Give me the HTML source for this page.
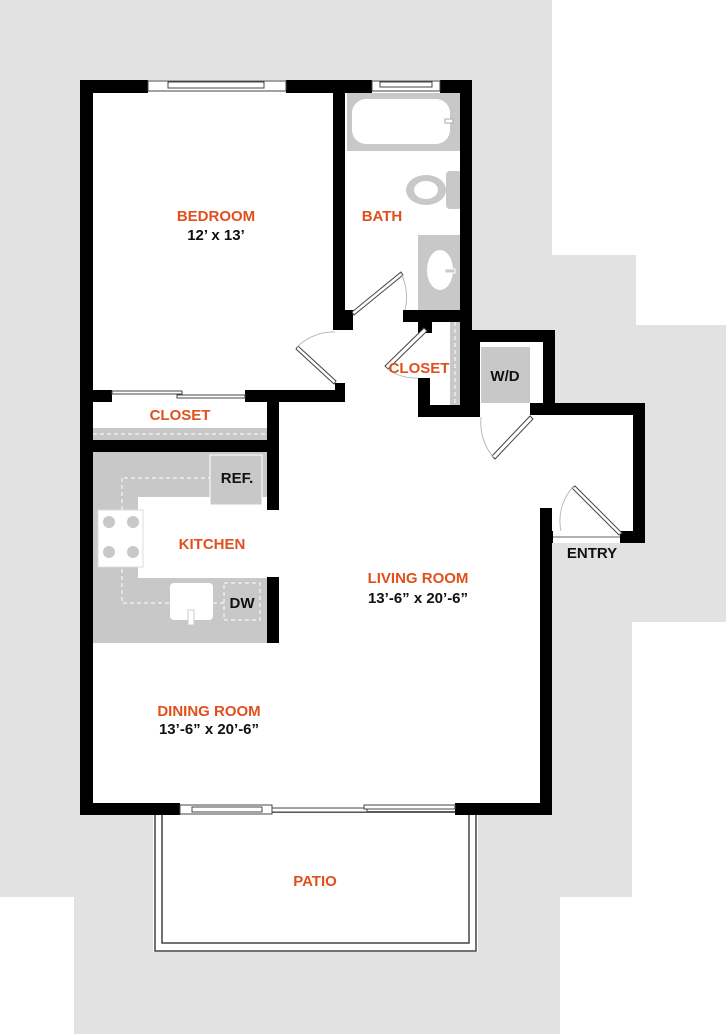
<!DOCTYPE html>
<html><head><style>
html,body{margin:0;padding:0;background:#fff;}
svg{display:block;}
text{font-family:"Liberation Sans",sans-serif;font-size:15px;font-weight:bold;text-anchor:middle;}
.o{fill:#e0501c;}
.k{fill:#111;}
</style></head><body>
<svg width="726" height="1034" viewBox="0 0 726 1034" xmlns="http://www.w3.org/2000/svg">
<path d="M0 0H552V255H636V325H726V622H632V897H560V1034H74V897H0Z" fill="#e2e2e2"/>
<path d="M80 80H472V330H555V403H645V543H552V815H80Z" fill="#fff"/>
<rect x="153" y="815" width="325" height="137" fill="#fff"/>
<rect x="155" y="812" width="321" height="139" fill="none" stroke="#444" stroke-width="1.5"/>
<rect x="162" y="812" width="307" height="131" fill="none" stroke="#444" stroke-width="1.5"/>
<path d="M93 452H267V643H93Z" fill="#c8c8c8"/>
<rect x="138" y="497" width="129" height="81" fill="#fff"/>
<rect x="98" y="510" width="45" height="57" fill="#fff" stroke="#ddd"/>
<circle cx="109" cy="522" r="6" fill="#c8c8c8"/><circle cx="133" cy="522" r="6" fill="#c8c8c8"/>
<circle cx="109" cy="552" r="6" fill="#c8c8c8"/><circle cx="133" cy="552" r="6" fill="#c8c8c8"/>
<rect x="210" y="455" width="52" height="50" fill="#c8c8c8" stroke="#fff"/>
<path d="M124 478H210M122 478V603H170M213 603H224" stroke="#fff" stroke-dasharray="4 3" fill="none"/>
<rect x="170" y="583" width="43" height="37" rx="4" fill="#fff"/>
<rect x="188" y="610" width="6" height="15" fill="#fff" stroke="#ccc"/>
<rect x="224" y="583" width="36" height="37" fill="none" stroke="#fff" stroke-dasharray="4 3"/>
<rect x="93" y="428" width="174" height="12" fill="#c8c8c8"/>
<line x1="93" y1="434" x2="267" y2="434" stroke="#fff" stroke-dasharray="4 3"/>
<rect x="347" y="93" width="113" height="58" fill="#c8c8c8"/>
<rect x="352" y="99" width="98" height="45" rx="14" fill="#fff"/>
<rect x="445" y="119" width="8" height="4" fill="#fff" stroke="#aaa"/>
<rect x="446" y="171" width="16" height="38" rx="4" fill="#c8c8c8"/>
<ellipse cx="426" cy="190" rx="20" ry="15" fill="#c8c8c8"/>
<ellipse cx="426" cy="190" rx="12" ry="9" fill="#fff"/>
<rect x="418" y="235" width="43" height="75" fill="#c8c8c8"/>
<ellipse cx="440" cy="270" rx="13" ry="20" fill="#fff"/>
<rect x="445" y="269" width="10" height="4" fill="#c8c8c8" stroke="#fff"/>
<rect x="450" y="322" width="10" height="85" fill="#c8c8c8"/>
<line x1="455" y1="322" x2="455" y2="407" stroke="#fff" stroke-dasharray="4 3"/>
<rect x="481" y="347" width="49" height="56" fill="#c8c8c8"/>
<g fill="#000">
<rect x="80" y="80" width="13" height="735"/>
<rect x="80" y="80" width="68" height="13"/>
<rect x="286" y="80" width="86" height="13"/>
<rect x="440" y="80" width="32" height="13"/>
<rect x="460" y="80" width="12" height="337"/>
<rect x="333" y="80" width="12" height="250"/>
<rect x="345" y="310" width="8" height="20"/>
<rect x="403" y="310" width="69" height="12"/>
<rect x="418" y="318" width="14" height="15"/>
<rect x="418" y="378" width="12" height="39"/>
<rect x="418" y="405" width="54" height="12"/>
<rect x="472" y="330" width="83" height="12"/>
<rect x="472" y="330" width="8" height="87"/>
<rect x="543" y="330" width="12" height="85"/>
<rect x="530" y="403" width="115" height="12"/>
<rect x="633" y="403" width="12" height="140"/>
<rect x="620" y="531" width="25" height="12"/>
<rect x="540" y="508" width="12" height="307"/>
<rect x="540" y="531" width="13" height="12"/>
<rect x="80" y="803" width="100" height="12"/>
<rect x="455" y="803" width="97" height="12"/>
<rect x="80" y="390" width="32" height="12"/>
<rect x="245" y="390" width="100" height="12"/>
<rect x="335" y="383" width="10" height="19"/>
<rect x="267" y="390" width="12" height="120"/>
<rect x="80" y="440" width="199" height="12"/>
<rect x="267" y="577" width="12" height="66"/>
</g>
<g fill="#fff" stroke="#444" stroke-width="1">
<rect x="148" y="81" width="138" height="10"/>
<rect x="168" y="82" width="96" height="6"/>
<rect x="372" y="81" width="68" height="10"/>
<rect x="380" y="82" width="52" height="5"/>
<rect x="112" y="391" width="70" height="3"/>
<rect x="177" y="395" width="68" height="3"/>
<rect x="180" y="805" width="92" height="9"/>
<rect x="192" y="807" width="70" height="5"/>
<rect x="272" y="808" width="95" height="4"/>
<rect x="364" y="805" width="91" height="4"/>
</g>
<g stroke="#444" fill="#fff" stroke-width="1">
<polygon points="352,312 401,272 403,275 354,315"/>
<polygon points="298,346 336,381 334,384 296,349"/>
<polygon points="385,366 424,328 427,331 388,369"/>
<polygon points="492,456 530,416 533,419 495,459"/>
<polygon points="575,486 622,533 619,535 572,488"/>
</g>
<g stroke="#bbb" fill="none" stroke-width="1">
<path d="M401 273A56 56 0 0 1 405 310"/>
<path d="M297 347A52 52 0 0 1 335 332"/>
<path d="M386 368A50 50 0 0 0 418 378"/>
<path d="M493 457A55 55 0 0 1 481 417"/>
<path d="M573 487A50 50 0 0 0 561 531"/>
</g>
<line x1="553" y1="537" x2="620" y2="537" stroke="#666"/>
<text class="o" x="216" y="221">BEDROOM</text>
<text class="k" x="216" y="240">12’ x 13’</text>
<text class="o" x="382" y="221">BATH</text>
<text class="o" x="419" y="373">CLOSET</text>
<text class="o" x="180" y="420">CLOSET</text>
<text class="k" x="237" y="483">REF.</text>
<text class="o" x="212" y="549">KITCHEN</text>
<text class="k" x="242" y="608">DW</text>
<text class="k" x="505" y="381">W/D</text>
<text class="o" x="418" y="583">LIVING ROOM</text>
<text class="k" x="418" y="603">13’-6” x 20’-6”</text>
<text class="k" x="592" y="558">ENTRY</text>
<text class="o" x="209" y="716">DINING ROOM</text>
<text class="k" x="209" y="734">13’-6” x 20’-6”</text>
<text class="o" x="315" y="886">PATIO</text>
</svg>
</body></html>
